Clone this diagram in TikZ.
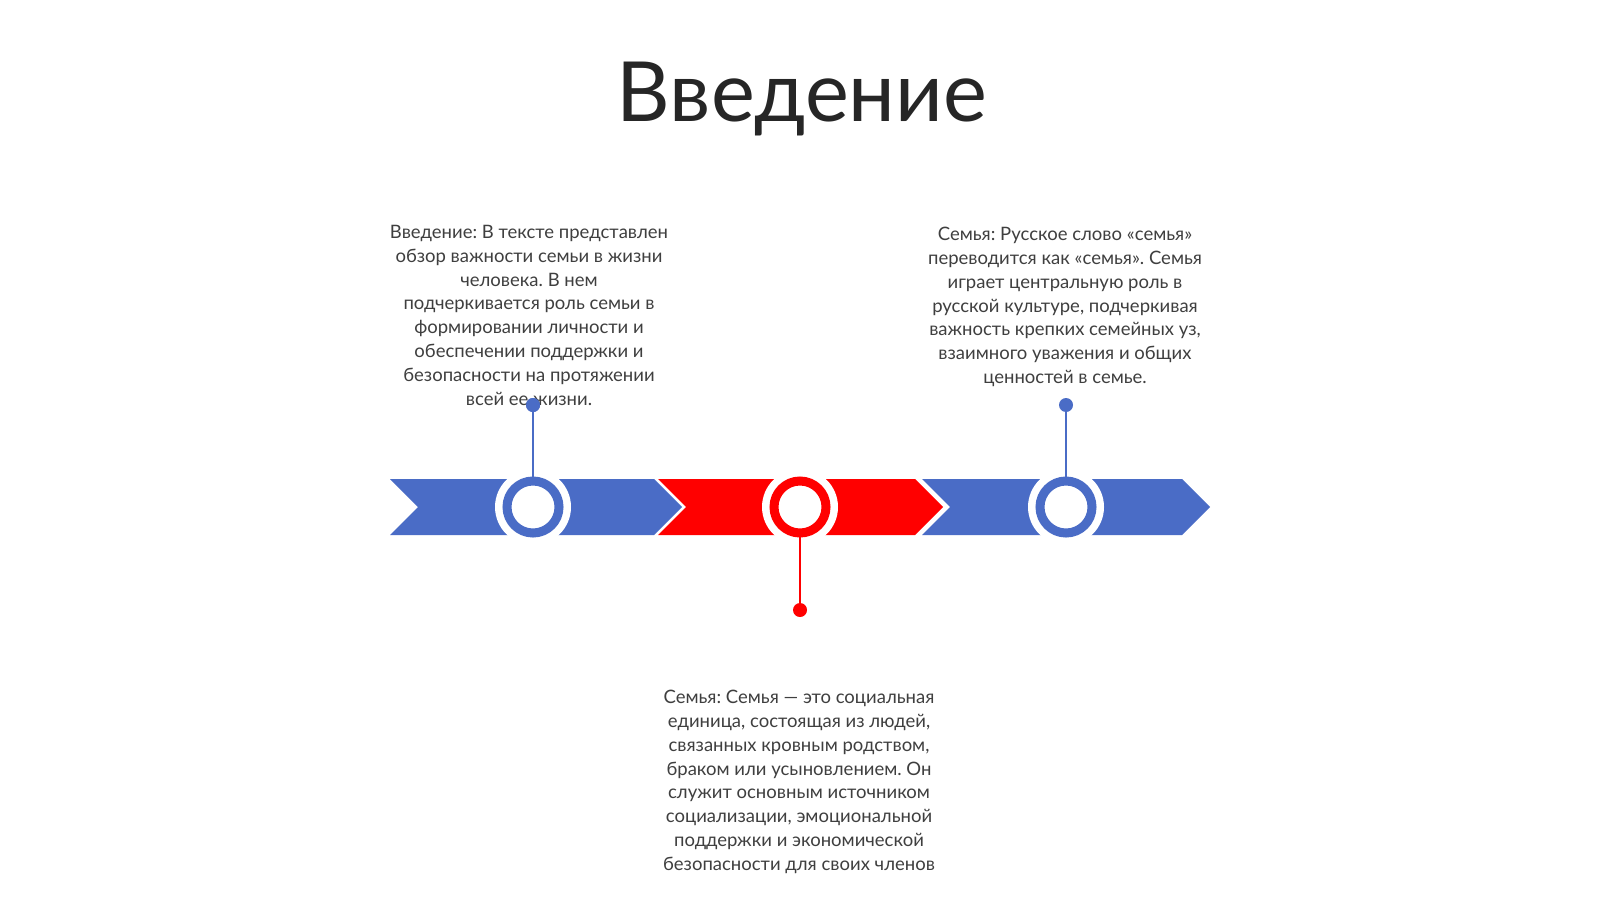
\documentclass[tikz,border=0pt]{standalone}
\usepackage{fontspec}
\setmainfont{Lato}
\definecolor{tblue}{HTML}{4A6CC6}
\definecolor{tred}{HTML}{FF0000}
\definecolor{ttext}{HTML}{3F3F3F}
\definecolor{ttitle}{HTML}{262626}
\tikzset{
  seg/.style={draw=none},
  halo/.style={circle, fill=white, minimum size=76pt, inner sep=0pt, outer sep=0pt},
  ring/.style={circle, draw=#1, fill=white, line width=9pt, minimum size=52pt, inner sep=0pt, outer sep=0pt},
  dot/.style={circle, fill=#1, minimum size=14pt, inner sep=0pt, outer sep=0pt},
  stem/.style={draw=#1, line width=2.6pt},
  body/.style={align=center, text=ttext, inner sep=0pt, font=\frenchspacing\fontsize{18.5}{23.8}\selectfont},
}
\begin{document}
\frenchspacing
\begin{tikzpicture}[x=1pt,y=-1pt]
\useasboundingbox (0,0) rectangle (1600,899);
\fill[white] (0,0) rectangle (1600,899);

\node[anchor=base, text=ttitle, inner sep=0pt, font=\fontsize{83}{96}\selectfont] (title) at (802,121) {Введение};

% band segments
\fill[tblue] (390,479) -- (654,479) -- (682,507) -- (654,535) -- (390,535) -- (418,507) -- cycle;
\fill[tred]  (658,479) -- (915,479) -- (943,507) -- (915,535) -- (658,535) -- (686,507) -- cycle;
\fill[tblue] (922,479) -- (1182,479) -- (1210,507) -- (1182,535) -- (922,535) -- (950,507) -- cycle;

% halos and rings
\node[halo] (h1) at (533,507) {};
\node[halo] (h2) at (800,507) {};
\node[halo] (h3) at (1066,507) {};

\node[dot=tblue] (d1) at (533,405) {};
\node[dot=tred]  (d2) at (800,610) {};
\node[dot=tblue] (d3) at (1066,405) {};

\node[ring=tblue] (r1) at (533,507) {};
\node[ring=tred]  (r2) at (800,507) {};
\node[ring=tblue] (r3) at (1066,507) {};

\draw[stem=tblue] (d1) -- (r1.north);
\draw[stem=tred]  (r2.south) -- (d2);
\draw[stem=tblue] (d3) -- (r3.north);

% texts
\node[body, anchor=north] (t1) at (529,225) {Введение: В тексте представлен\\обзор важности семьи в жизни\\человека. В нем\\подчеркивается роль семьи в\\формировании личности и\\обеспечении поддержки и\\безопасности на протяжении\\всей ее жизни.};
\node[body, anchor=north] (t3) at (1065,227) {Семья: Русское слово «семья»\\переводится как «семья». Семья\\играет центральную роль в\\русской культуре, подчеркивая\\важность крепких семейных уз,\\взаимного уважения и общих\\ценностей в семье.};
\node[body, anchor=north] (t2) at (799,690) {Семья: Семья — это социальная\\единица, состоящая из людей,\\связанных кровным родством,\\браком или усыновлением. Он\\служит основным источником\\социализации, эмоциональной\\поддержки и экономической\\безопасности для своих членов};

% redraw dot over text (as in reference)
\node[dot=tblue] at (d1) {};
\end{tikzpicture}
\end{document}
